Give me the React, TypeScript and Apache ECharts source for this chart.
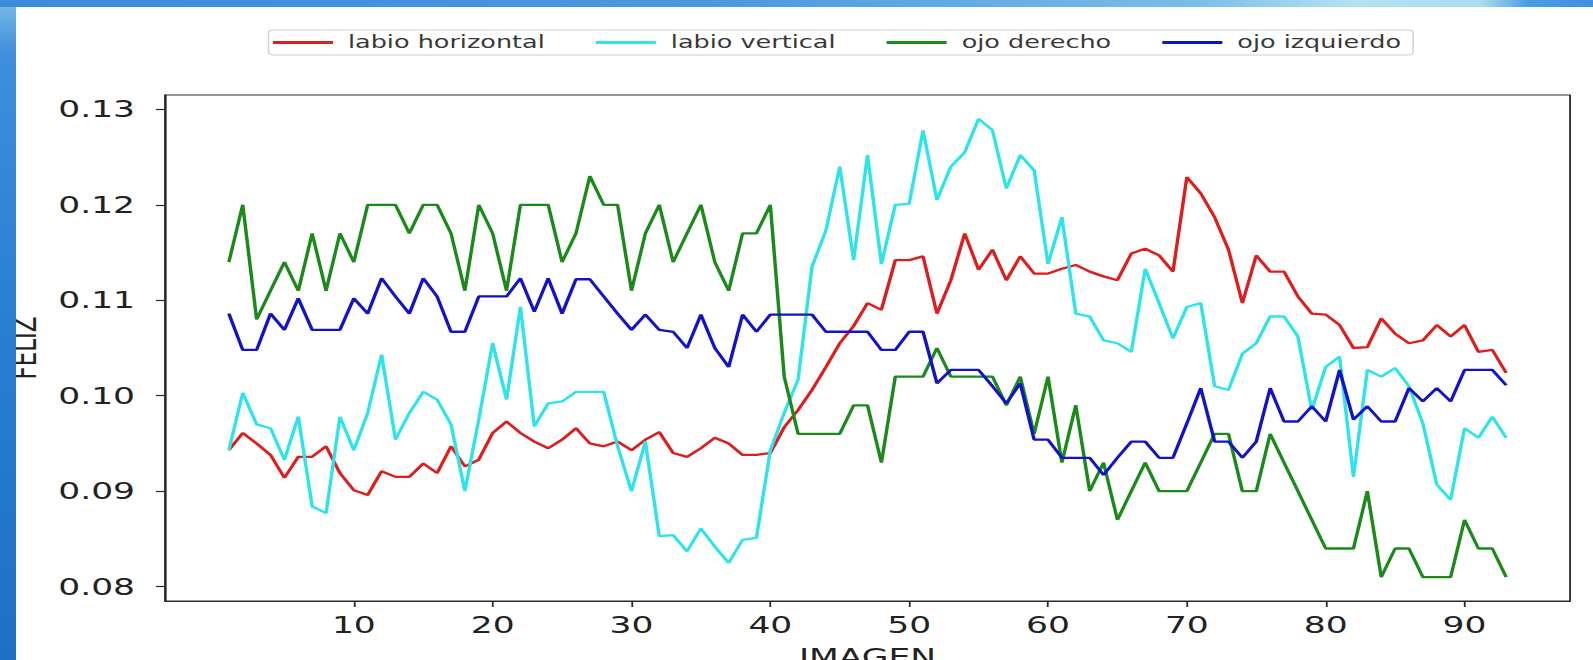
import React, { useEffect, useRef } from "react";
import * as echarts from "echarts";

// x positions (image index)
const imagen = Array.from({ length: 93 }, (_, i) => i + 1);

const labioHorizontal = [
  0.0943, 0.0961, 0.095, 0.0938, 0.0914, 0.0936, 0.0936, 0.0947, 0.0919, 0.0901,
  0.0896, 0.0921, 0.0915, 0.0915, 0.0929, 0.0919, 0.0947, 0.0926, 0.0933, 0.0961,
  0.0973, 0.0961, 0.0952, 0.0945, 0.0954, 0.0966, 0.095, 0.0947, 0.0952, 0.0943,
  0.0954, 0.0962, 0.094, 0.0936, 0.0945, 0.0956, 0.095, 0.0938, 0.0938, 0.094,
  0.0967, 0.0985, 0.1006, 0.103, 0.1055, 0.1073, 0.1097, 0.109, 0.1142, 0.1142,
  0.1146, 0.1086, 0.1121, 0.117, 0.1132, 0.1153, 0.1121, 0.1146, 0.1128, 0.1128,
  0.1133, 0.1137, 0.113, 0.1125, 0.1121, 0.1149, 0.1154, 0.1147, 0.113, 0.1229,
  0.1212, 0.1187, 0.1153, 0.1097, 0.1147, 0.113, 0.113, 0.1104, 0.1086, 0.1085,
  0.1074, 0.105, 0.1051, 0.1081, 0.1065, 0.1055, 0.1058, 0.1074, 0.1062, 0.1074,
  0.1046, 0.1048, 0.1024,
];

const labioVertical = [
  0.0943, 0.1003, 0.097, 0.0966, 0.0933, 0.0978, 0.0884, 0.0877, 0.0978, 0.0943,
  0.0982, 0.1043, 0.0954, 0.0982, 0.1004, 0.0996, 0.097, 0.09, 0.0975, 0.1055,
  0.0996, 0.1093, 0.0968, 0.0992, 0.0994, 0.1004, 0.1004, 0.1004, 0.0947, 0.09,
  0.0952, 0.0853, 0.0854, 0.0837, 0.0861, 0.0842, 0.0825, 0.0849, 0.0851, 0.0943,
  0.0982, 0.1017, 0.1135, 0.1173, 0.124, 0.1142, 0.1252, 0.1138, 0.12, 0.1201,
  0.1278, 0.1205, 0.124, 0.1255, 0.129, 0.1278, 0.1217, 0.1252, 0.1236, 0.1138,
  0.1187, 0.1086, 0.1083, 0.1058, 0.1055, 0.1046, 0.1133, 0.1097, 0.106, 0.1093,
  0.1097, 0.101, 0.1006, 0.1044, 0.1055, 0.1083, 0.1083, 0.1062, 0.0985, 0.103,
  0.1041, 0.0915, 0.1027, 0.102, 0.1029, 0.101, 0.0971, 0.0907, 0.0891, 0.0966,
  0.0956, 0.0978, 0.0956,
];

const ojoDerecho = [
  0.114, 0.12, 0.108, 0.111, 0.114, 0.111, 0.117, 0.111, 0.117, 0.114,
  0.12, 0.12, 0.12, 0.117, 0.12, 0.12, 0.117, 0.111, 0.12, 0.117,
  0.111, 0.12, 0.12, 0.12, 0.114, 0.117, 0.123, 0.12, 0.12, 0.111,
  0.117, 0.12, 0.114, 0.117, 0.12, 0.114, 0.111, 0.117, 0.117, 0.12,
  0.102, 0.096, 0.096, 0.096, 0.096, 0.099, 0.099, 0.093, 0.102, 0.102,
  0.102, 0.105, 0.102, 0.102, 0.102, 0.102, 0.099, 0.102, 0.096, 0.102,
  0.093, 0.099, 0.09, 0.093, 0.087, 0.09, 0.093, 0.09, 0.09, 0.09,
  0.093, 0.096, 0.096, 0.09, 0.09, 0.096, 0.093, 0.09, 0.087, 0.084,
  0.084, 0.084, 0.09, 0.081, 0.084, 0.084, 0.081, 0.081, 0.081, 0.087,
  0.084, 0.084, 0.081,
];

const ojoIzquierdo = [
  0.1086, 0.1048, 0.1048, 0.1086, 0.1069, 0.1102, 0.1069, 0.1069, 0.1069, 0.1102,
  0.1086, 0.1123, 0.1104, 0.1086, 0.1123, 0.1104, 0.1067, 0.1067, 0.1104, 0.1104,
  0.1104, 0.1123, 0.1088, 0.1123, 0.1086, 0.1122, 0.1122, 0.1104, 0.1086, 0.1069,
  0.1085, 0.1069, 0.1067, 0.105, 0.1085, 0.105, 0.103, 0.1085, 0.1067, 0.1085,
  0.1085, 0.1085, 0.1085, 0.1067, 0.1067, 0.1067, 0.1067, 0.1048, 0.1048, 0.1067,
  0.1067, 0.1013, 0.1027, 0.1027, 0.1027, 0.101, 0.0992, 0.1013, 0.0954, 0.0954,
  0.0935, 0.0935, 0.0935, 0.0917, 0.0935, 0.0952, 0.0952, 0.0935, 0.0935, 0.0971,
  0.1008, 0.0952, 0.0952, 0.0935, 0.0952, 0.1008, 0.0973, 0.0973, 0.0989, 0.0973,
  0.1027, 0.0975, 0.0989, 0.0973, 0.0973, 0.1008, 0.0994, 0.1008, 0.0994, 0.1027,
  0.1027, 0.1027, 0.1011,
];

const seriesNames = ["labio horizontal", "labio vertical", "ojo derecho", "ojo izquierdo"];
const seriesColors = ["#dc1e1e", "#2fe3ea", "#1b8a1b", "#1212c8"];
const xTicks = [10, 20, 30, 40, 50, 60, 70, 80, 90];
const yTicks = [0.08, 0.09, 0.1, 0.11, 0.12, 0.13];

const STRETCH = 1.5;
const FULL_W = 1593;
const H = 660;
const W = FULL_W / STRETCH;
const FONT = "DejaVu Sans";

export default function App() {
  const ref = useRef<HTMLDivElement>(null);

  useEffect(() => {
    if (!ref.current) return;
    const chart = echarts.init(ref.current, undefined, { renderer: "svg" });
    const allValues = [labioHorizontal, labioVertical, ojoDerecho, ojoIzquierdo];
    const axisColor = "#2a2a2a";
    const option: any = {
      animation: false,
      backgroundColor: "#ffffff",
      textStyle: { fontFamily: FONT },
      grid: {
        left: 110,
        top: 95,
        width: 936.7,
        height: 506,
        show: true,
        containLabel: false,
        outerBoundsMode: "none",
        borderColor: axisColor,
        borderWidth: 1.2,
        backgroundColor: "transparent",
      },
      legend: {
        top: 30,
        left: 179,
        padding: [4, 8, 4, 3],
        itemGap: 34,
        itemWidth: 40,
        itemHeight: 3,
        icon: "rect",
        borderColor: "#cfcfcf",
        borderWidth: 1,
        borderRadius: 3,
        backgroundColor: "#ffffff",
        textStyle: { fontSize: 17, color: "#383838", fontFamily: FONT, padding: [0, 0, 0, 5] },
        data: seriesNames,
      },
      xAxis: {
        type: "value",
        min: -3.6,
        max: 97.6,
        name: "IMAGEN",
        nameLocation: "middle",
        nameGap: 45,
        nameTextStyle: { fontSize: 23, color: "#222", fontFamily: FONT },
        axisLine: { show: true, onZero: false, lineStyle: { color: axisColor, width: 1.2 } },
        axisTick: { show: true, length: 6, customValues: xTicks, lineStyle: { color: axisColor, width: 1.2 } },
        axisLabel: { customValues: xTicks, margin: 13, fontSize: 23, color: "#222", fontFamily: FONT },
        splitLine: { show: false },
      },
      yAxis: {
        type: "value",
        min: 0.0785,
        max: 0.1315,
        name: "FELIZ",
        nameLocation: "middle",
        nameGap: 78,
        nameTextStyle: { fontSize: 23, color: "#222", fontFamily: FONT },
        axisLine: { show: true, onZero: false, lineStyle: { color: axisColor, width: 1.2 } },
        axisTick: { show: true, length: 6, customValues: yTicks, lineStyle: { color: axisColor, width: 1.2 } },
        axisLabel: {
          customValues: yTicks,
          margin: 20,
          fontSize: 23,
          color: "#222",
          fontFamily: FONT,
          formatter: (v: number) => v.toFixed(2),
        },
        splitLine: { show: false },
      },
      series: seriesNames.map((name, k) => ({
        name,
        type: "line",
        data: imagen.map((x, i) => [x, allValues[k][i]]),
        symbol: "none",
        showSymbol: false,
        lineStyle: { color: seriesColors[k], width: 2.3 },
        itemStyle: { color: seriesColors[k] },
        z: 2 + k,
      })),
      graphic: [
        {
          type: "rect",
          z: 100,
          shape: { x: 0, y: 0, width: 16 / STRETCH, height: H },
          style: {
            fill: new echarts.graphic.LinearGradient(0, 0, 0, 1, [
              { offset: 0, color: "#7cbcea" },
              { offset: 0.08, color: "#3f8fd9" },
              { offset: 0.5, color: "#2a7ed0" },
              { offset: 1, color: "#1f6fc6" },
            ]),
          },
        },
        {
          type: "rect",
          z: 100,
          shape: { x: 0, y: 0, width: W, height: 7 },
          style: {
            fill: new echarts.graphic.LinearGradient(0, 0, 1, 0, [
              { offset: 0, color: "#3b8bd8" },
              { offset: 0.45, color: "#4c98de" },
              { offset: 0.75, color: "#79bde9" },
              { offset: 0.85, color: "#b3e2f1" },
              { offset: 0.93, color: "#a8dcef" },
              { offset: 0.96, color: "#4a9ce0" },
              { offset: 1, color: "#3f92dc" },
            ]),
          },
        },
      ],
    };
    chart.setOption(option);
    return () => chart.dispose();
  }, []);

  return (
    <div
      style={{
        position: "fixed",
        left: 0,
        top: 0,
        width: FULL_W,
        height: H,
        overflow: "hidden",
        background: "#fff",
      }}
    >
      <div
        ref={ref}
        style={{
          width: W,
          height: H,
          transform: `scaleX(${STRETCH})`,
          transformOrigin: "0 0",
        }}
      />
    </div>
  );
}
